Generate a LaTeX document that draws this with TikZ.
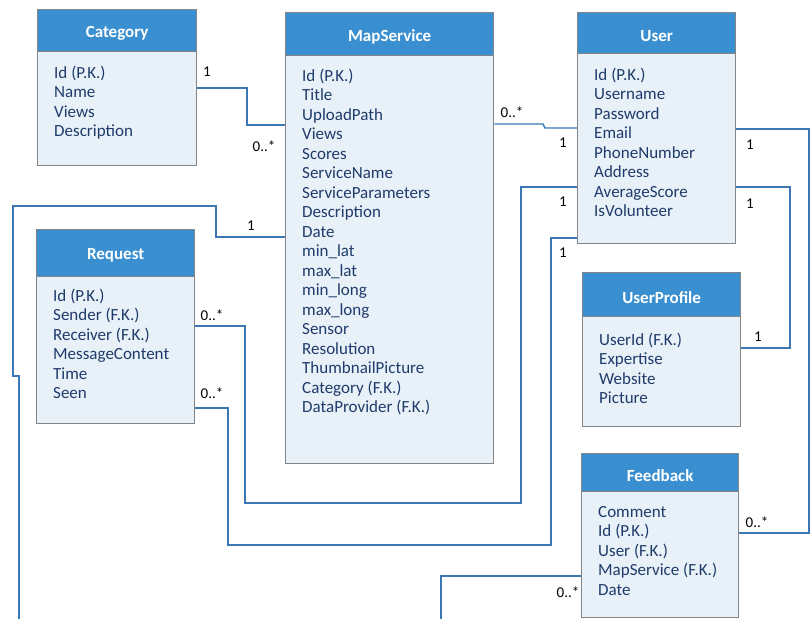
\documentclass[tikz,border=0pt]{standalone}
\usepackage{fontspec}
\setmainfont{Carlito}
\usetikzlibrary{calc}
\definecolor{hdr}{HTML}{3A8FD0}
\definecolor{bodyc}{HTML}{E8F0F8}
\definecolor{edgec}{HTML}{858585}
\definecolor{txt}{HTML}{1F3B6B}
\definecolor{wirec}{HTML}{3A77B4}
\tikzset{
 entbody/.style={draw=edgec, line width=1.3pt, fill=bodyc, anchor=north west, inner sep=0pt},
 enthead/.style={draw=edgec, line width=1.3pt, fill=hdr, anchor=north west, inner sep=0pt},
 enttitle/.style={inner sep=0pt, text=white, font=\fontsize{17}{20}\selectfont\bfseries},
 attr/.style={anchor=base west, inner sep=0pt, text=txt, font=\fontsize{17}{20}\selectfont},
 mult/.style={inner sep=0pt, font=\fontsize{15}{18}\selectfont, text=black},
 wire/.style={draw=wirec, line width=1.4pt}
}
\newcommand\entity[9]{%
 \node[entbody, minimum width=#4pt, minimum height=#5pt] (#1) at (#2,#3) {};
 \node[enthead, minimum width=#4pt, minimum height=#6pt] (#1-head) at (#2,#3) {};
 \node[enttitle] (#1-title) at ([yshift=-2.5pt]#1-head.center) {#7};
 \foreach \t [count=\i] in {#9}
   \node[attr] (#1-a\i) at (#2+17, #8+19.5*\i-19.5) {\t};
}
\begin{document}
\begin{tikzpicture}[x=1pt,y=-1pt]
\useasboundingbox (0,0) rectangle (810,619);
\coordinate (e1) at (19,619);
\coordinate (e2) at (441,619);
\entity{cat}{37}{9}{159}{156}{42}{Category}{78}{Id (P.K.),Name,Views,Description}
\entity{ms}{285}{12}{208}{451}{43}{MapService}{81}{Id (P.K.),Title,UploadPath,Views,Scores,ServiceName,ServiceParameters,Description,Date,min\_lat,max\_lat,min\_long,max\_long,Sensor,Resolution,ThumbnailPicture,Category (F.K.),DataProvider (F.K.)}
\entity{user}{577}{12}{158}{231}{41}{User}{80}{Id (P.K.),Username,Password,Email,PhoneNumber,Address,AverageScore,IsVolunteer}
\entity{req}{36}{229}{158}{194}{47}{Request}{301}{Id (P.K.),Sender (F.K.),Receiver (F.K.),MessageContent,Time,Seen}
\entity{up}{582}{272}{158}{154}{44}{UserProfile}{345}{UserId (F.K.),Expertise,Website,Picture}
\entity{fb}{581}{453}{157}{164}{38}{Feedback}{517}{Comment,Id (P.K.),User (F.K.),MapService (F.K.),Date}
\draw[wire] (cat.east |- 0,88) -- (247,88) -- (247,125) -- (ms.west |- 0,125);
\draw[wire] (ms.west |- 0,237) -- (216,237) -- (216,206) -- (13,206) -- (13,376) -- (19,376) -- (e1);
\draw[wire] (req.east |- 0,326) -- (245,326) -- (245,503) -- (521,503) -- (521,187) -- (user.west |- 0,187);
\draw[wire] (req.east |- 0,408) -- (228,408) -- (228,545) -- (551,545) -- (551,238) -- (user.west |- 0,238);
\draw[wire] (ms.east |- 0,124) -- (543,124) -- (545,128) -- (user.west |- 0,128);
\draw[wire] (user.east |- 0,129) -- (809,129) -- (809,533) -- (fb.east |- 0,533);
\draw[wire] (user.east |- 0,187) -- (790,187) -- (790,348) -- (up.east |- 0,348);
\draw[wire] (fb.west |- 0,576) -- (441,576) -- (e2);
\node[mult] (m1) at (207,72) {1};
\node[mult] (m2) at (264,146) {0..*};
\node[mult] (m3) at (251,226) {1};
\node[mult] (m4) at (512,112) {0..*};
\node[mult] (m5) at (563,143) {1};
\node[mult] (m6) at (563,202) {1};
\node[mult] (m7) at (563,253) {1};
\node[mult] (m8) at (750,145) {1};
\node[mult] (m9) at (750,204) {1};
\node[mult] (m10) at (758,337) {1};
\node[mult] (m11) at (212,315) {0..*};
\node[mult] (m12) at (212,393) {0..*};
\node[mult] (m13) at (757,522) {0..*};
\node[mult] (m14) at (568,592) {0..*};
\end{tikzpicture}
\end{document}
